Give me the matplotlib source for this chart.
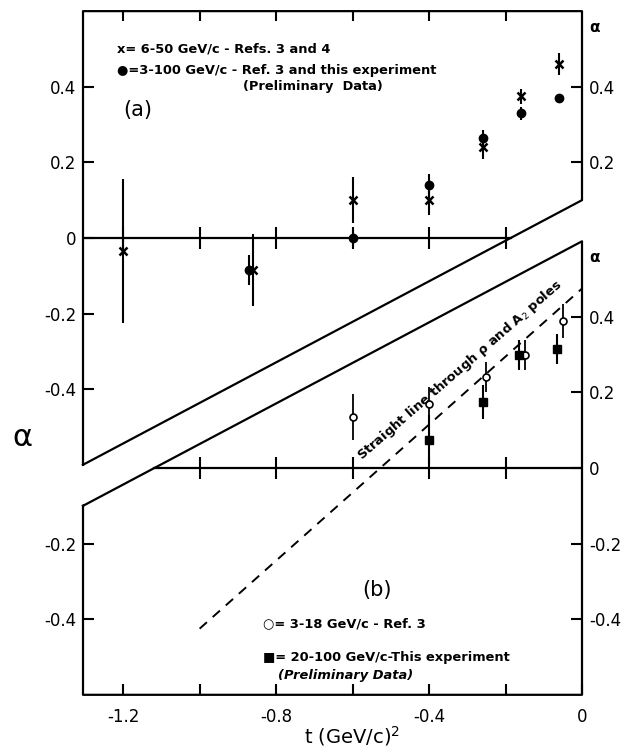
import numpy as np
import matplotlib.pyplot as plt

# ---- panel (a) data ----
# x = 6-50 GeV/c - Refs. 3 and 4
t_a_cross = [-1.2, -0.86, -0.6, -0.4, -0.26, -0.16, -0.06]
alpha_a_cross = [-0.035, -0.085, 0.10, 0.10, 0.24, 0.375, 0.46]
err_a_cross = [0.19, 0.095, 0.06, 0.04, 0.03, 0.02, 0.03]
# filled circle = 3-100 GeV/c - Ref. 3 and this experiment
t_a_dot = [-0.87, -0.6, -0.4, -0.26, -0.16, -0.06]
alpha_a_dot = [-0.085, 0.0, 0.14, 0.265, 0.33, 0.37]
err_a_dot = [0.04, 0.02, 0.03, 0.02, 0.017, 0.012]

# ---- panel (b) data ----
# open circle = 3-18 GeV/c - Ref. 3
t_b_open = [-0.6, -0.4, -0.25, -0.15, -0.05]
alpha_b_open = [0.135, 0.17, 0.24, 0.30, 0.39]
err_b_open = [0.06, 0.045, 0.04, 0.04, 0.045]
# filled square = 20-100 GeV/c - This experiment
t_b_sq = [-0.4, -0.26, -0.165, -0.065]
alpha_b_sq = [0.075, 0.175, 0.30, 0.315]
err_b_sq = [0.065, 0.045, 0.04, 0.04]

# straight line through rho and A2 poles (panel b)
line_t = [-1.0, 0.0]
line_alpha = [-0.425, 0.475]

# axis stuff
t_min = -1.305
major_t = [-1.2, -0.8, -0.4, 0.0]
major_t_lab = ["-1.2", "-0.8", "-0.4", "0"]
all_t = [-1.2, -1.0, -0.8, -0.6, -0.4, -0.2]
yt_a_left = [0.4, 0.2, 0.0, -0.2, -0.4]
yt_a_left_lab = ["0.4", "0.2", "0", "-0.2", "-0.4"]
yt_a_right = [0.4, 0.2]
yt_b_left = [-0.2, -0.4]
yt_b_right = [0.4, 0.2, 0.0, -0.2, -0.4]
yt_b_right_lab = ["0.4", "0.2", "0", "-0.2", "-0.4"]

W, H = 631, 753
fig = plt.figure(figsize=(W / 100, H / 100), dpi=100)
rect = [83 / W, 1 - 695 / H, (582 - 83) / W, (695 - 10) / H]

axA = fig.add_axes(rect)
axB = fig.add_axes(rect)
for ax in (axA, axB):
    ax.patch.set_visible(False)
    ax.set_xlim(t_min, 0)
    for s in ax.spines.values():
        s.set_visible(False)
axA.set_ylim(-1.209, 0.603)
axB.set_ylim(-0.6005, 1.212)

lw = 1.6
tk = dict(direction="in", length=8, width=1.5, labelsize=12)

# frames
axA.plot([t_min, t_min, 0, 0, t_min], [-0.6, 0.6, 0.6, 0.1, -0.6],
         color="k", lw=lw, clip_on=False)
axB.plot([t_min, t_min, 0, 0, t_min], [-0.1, -0.6, -0.6, 0.6, -0.1],
         color="k", lw=lw, clip_on=False)

# zero lines with ticks
slope = 0.7 / -t_min
axA.plot([t_min, -0.1 / slope], [0, 0], color="k", lw=lw)
axA.plot(all_t, [0] * len(all_t), ls="none", marker="|", ms=16, mew=1.5, color="k")
axB.plot([t_min + 0.1 / slope, 0], [0, 0], color="k", lw=lw)
axB.plot(all_t[1:], [0] * (len(all_t) - 1), ls="none", marker="|", ms=16, mew=1.5, color="k")

# ticks, panel (a)
axA.xaxis.set_ticks_position("top")
axA.set_xticks(all_t)
axA.tick_params(axis="x", labeltop=False, **tk)
axA.set_yticks(yt_a_left, yt_a_left_lab)
axA.tick_params(axis="y", pad=5, **tk)
axAr = axA.twinx()
axAr.set_ylim(axA.get_ylim())
axAr.patch.set_visible(False)
for s in axAr.spines.values():
    s.set_visible(False)
axAr.set_yticks(yt_a_right, ["0.4", "0.2"])
axAr.tick_params(axis="y", pad=5, **tk)

# ticks, panel (b)
axB.xaxis.set_ticks_position("bottom")
axB.set_xticks(major_t, major_t_lab)
axB.set_xticks([-1.0, -0.6, -0.2], minor=True)
axB.tick_params(axis="x", which="both", pad=9, **tk)
axB.set_yticks(yt_b_left, ["-0.2", "-0.4"])
axB.tick_params(axis="y", pad=5, **tk)
axBr = axB.twinx()
axBr.set_ylim(axB.get_ylim())
axBr.patch.set_visible(False)
for s in axBr.spines.values():
    s.set_visible(False)
axBr.set_yticks(yt_b_right, yt_b_right_lab)
axBr.tick_params(axis="y", pad=5, **tk)

# data (a)
axA.errorbar(t_a_cross, alpha_a_cross, yerr=err_a_cross, fmt="x", ms=6, mew=1.8,
             color="k", elinewidth=1.5, capsize=0)
axA.errorbar(t_a_dot, alpha_a_dot, yerr=err_a_dot, fmt="o", ms=6,
             color="k", elinewidth=1.5, capsize=0)

# data (b)
axB.plot(line_t, line_alpha, ls=(0, (5, 4)), color="k", lw=1.4)
axB.errorbar(t_b_open, alpha_b_open, yerr=err_b_open, fmt="o", ms=5, mfc="white",
             mec="k", mew=1.2, color="k", elinewidth=1.3, capsize=0)
axB.errorbar(t_b_sq, alpha_b_sq, yerr=err_b_sq, fmt="s", ms=6,
             color="k", elinewidth=1.5, capsize=0)

# texts (a)
fs = 9.4
axA.text(-1.216, 0.50, "x= 6-50 GeV/c - Refs. 3 and 4", fontsize=fs,
         fontweight="bold", va="center")
axA.text(-1.216, 0.444, "\u25cf=3-100 GeV/c - Ref. 3 and this experiment", fontsize=fs,
         fontweight="bold", va="center")
axA.text(-0.886, 0.40, "(Preliminary  Data)", fontsize=fs, fontweight="bold", va="center")
axA.text(-1.163, 0.339, "(a)", fontsize=15, ha="center", va="center")
axA.text(0.02, 0.556, "\u03b1", fontsize=11, fontweight="bold", va="center",
         clip_on=False)

# texts (b)
axB.text(-0.834, -0.413, "\u25cb= 3-18 GeV/c - Ref. 3", fontsize=fs,
         fontweight="bold", va="center")
axB.text(-0.834, -0.50, "\u25a0= 20-100 GeV/c-This experiment", fontsize=fs,
         fontweight="bold", va="center")
axB.text(-0.795, -0.548, "(Preliminary Data)", fontsize=fs, fontweight="bold",
         style="italic", va="center")
axB.text(-0.536, -0.323, "(b)", fontsize=15, ha="center", va="center")
axB.text(0.02, 0.556, "\u03b1", fontsize=11, fontweight="bold", va="center",
         clip_on=False)
axB.text(-0.32, 0.26, "Straight line through \u03c1 and A$_2$ poles", fontsize=fs,
         fontweight="bold", rotation=41, rotation_mode="anchor",
         ha="center", va="center")

# axis labels
fig.text(22 / W, 1 - 437 / H, "\u03b1", fontsize=22, ha="center", va="center")
fig.text(352 / W, 1 - 736 / H, "t (GeV/c)$^2$", fontsize=14, ha="center", va="center")

fig.savefig("out.png", dpi=100)
